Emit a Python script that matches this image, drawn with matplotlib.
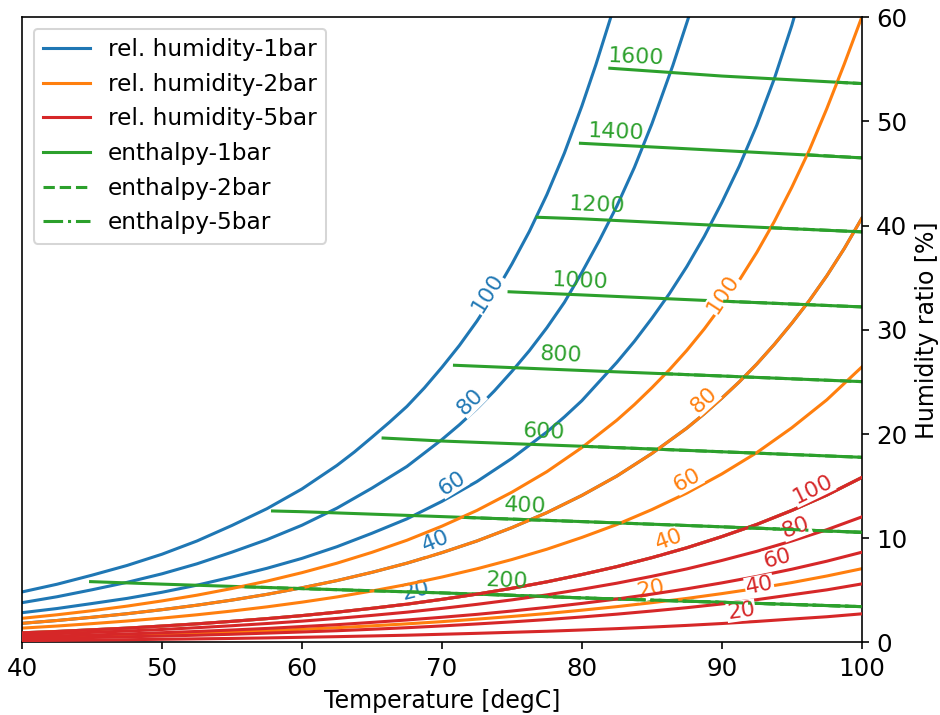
import numpy as np
import matplotlib
matplotlib.use('Agg')
from matplotlib import pyplot as plt
from matplotlib.lines import Line2D


# temperature grid [degC]
temp = [40, 42.5, 45, 47.5, 50, 52.5, 55, 57.5, 60, 62.5, 65, 67.5, 70,
        72.5, 75, 77.5, 80, 82.5, 85, 87.5, 90, 92.5, 95, 97.5, 100]

# relative humidity curves (humidity ratio in %)
t_b100 = [40, 42.5, 45, 47.5, 50, 52.5, 55, 57.5, 60, 62.5, 63.75, 65, 66.25, 67.5, 68.75,
          70, 71.25, 72.5, 73.75, 75, 76.25, 77.5, 78.75, 80, 81, 82.07]
x_b100 = [4.85, 5.59, 6.46, 7.39, 8.47, 9.74, 11.23, 12.84, 14.73, 16.99, 18.28, 19.69, 21.13, 22.65, 24.43,
          26.40, 28.50, 30.83, 33.42, 36.31, 39.44, 42.97, 46.95, 51.47, 55.43, 60.0]

t_b80 = [40, 42.5, 45, 47.5, 50, 52.5, 55, 57.5, 60, 62.5, 65, 67.5, 70, 71.25, 72.5, 73.75,
         75, 76.25, 77.5, 78.75, 80, 81.25, 82.5, 83.75, 85, 86.5, 87.63]
x_b80 = [3.82, 4.39, 5.06, 5.77, 6.59, 7.55, 8.67, 9.87, 11.25, 12.89, 14.81, 16.89, 19.47, 20.89, 22.44, 24.14,
         26.01, 28.00, 30.20, 32.63, 35.50, 38.57, 41.87, 45.57, 49.75, 55.36, 60.0]

t_b60 = [40, 42.5, 45, 47.5, 50, 52.5, 55, 57.5, 60, 62.5, 65, 67.5, 70, 72.5, 75, 77.5,
         78.75, 80, 81.25, 82.5, 83.75, 85, 86.25, 87.5, 88.75, 90, 91.25, 92.5, 93.75, 95, 95.17]
x_b60 = [2.86, 3.26, 3.74, 4.23, 4.82, 5.50, 6.28, 7.12, 8.07, 9.19, 10.48, 11.86, 13.54, 15.44, 17.66, 20.20,
         21.64, 23.20, 25.04, 26.88, 28.89, 31.10, 33.46, 36.07, 38.97, 42.21, 45.71, 49.64, 54.09, 59.2, 60.0]

# blue 40 and orange 80 lie on the same curve
t_b40 = [40, 42.5, 45, 47.5, 50, 52.5, 55, 57.5, 60, 62.5, 65, 67.5, 70, 72.5, 75, 77.5, 80,
         82.5, 85, 87.5, 88.75, 90, 91.25, 92.5, 93.75, 95, 96.25, 97.5, 98.75, 100]
x_b40 = [1.84, 2.11, 2.42, 2.76, 3.15, 3.58, 4.07, 4.62, 5.25, 5.94, 6.73, 7.61, 8.62, 9.74, 11.02, 12.46, 14.11,
         15.97, 18.13, 20.57, 21.95, 23.44, 25.01, 26.72, 28.60, 30.63, 32.80, 35.18, 37.80, 40.70]

# blue 20, orange 40 and red 100 lie on the same curve
x_b20 = [0.93, 1.06, 1.22, 1.38, 1.58, 1.79, 2.03, 2.29, 2.58, 2.91, 3.28, 3.68, 4.14,
         4.64, 5.20, 5.82, 6.52, 7.28, 8.14, 9.09, 10.16, 11.33, 12.67, 14.14, 15.83]

t_o100 = [40, 42.5, 45, 47.5, 50, 52.5, 55, 57.5, 60, 62.5, 65, 67.5, 70, 72.5, 75, 77.5, 80,
          82.5, 83.75, 85, 86.25, 87.5, 88.75, 90, 91.25, 92.5, 93.75, 95, 96.25, 97.5, 98.75, 100]
x_o100 = [2.32, 2.66, 3.05, 3.49, 3.99, 4.54, 5.18, 5.89, 6.70, 7.61, 8.65, 9.81, 11.16, 12.67, 14.42, 16.39, 18.70,
          21.33, 22.82, 24.44, 26.16, 28.03, 30.09, 32.35, 34.76, 37.43, 40.39, 43.67, 47.23, 51.22, 55.5, 60.0]
x_o60 = [1.38, 1.58, 1.81, 2.06, 2.34, 2.66, 3.02, 3.42, 3.87, 4.37, 4.94, 5.57, 6.28,
         7.07, 7.96, 8.95, 10.08, 11.32, 12.75, 14.34, 16.17, 18.22, 20.60, 23.28, 26.43]
x_o20 = [0.46, 0.53, 0.60, 0.68, 0.78, 0.88, 1.00, 1.12, 1.27, 1.42, 1.60, 1.79, 2.00,
         2.24, 2.50, 2.78, 3.10, 3.44, 3.82, 4.23, 4.69, 5.19, 5.75, 6.38, 7.08]

x_r80 = [0.74, 0.85, 0.97, 1.10, 1.25, 1.42, 1.61, 1.82, 2.05, 2.31, 2.60, 2.91, 3.27,
         3.66, 4.09, 4.57, 5.11, 5.69, 6.35, 7.06, 7.87, 8.75, 9.74, 10.82, 12.05]
x_r60 = [0.56, 0.63, 0.72, 0.82, 0.94, 1.06, 1.20, 1.35, 1.53, 1.71, 1.93, 2.16, 2.42,
         2.70, 3.02, 3.37, 3.75, 4.17, 4.64, 5.15, 5.72, 6.34, 7.03, 7.80, 8.66]
x_r40 = [0.37, 0.42, 0.48, 0.55, 0.62, 0.70, 0.79, 0.90, 1.01, 1.13, 1.27, 1.42, 1.59,
         1.78, 1.98, 2.20, 2.45, 2.72, 3.02, 3.34, 3.70, 4.11, 4.58, 5.05, 5.62]
x_r20 = [0.18, 0.21, 0.24, 0.27, 0.31, 0.35, 0.39, 0.44, 0.50, 0.56, 0.63, 0.70, 0.79,
         0.88, 0.98, 1.08, 1.20, 1.33, 1.48, 1.64, 1.82, 2.02, 2.25, 2.47, 2.75]

# enthalpy lines
h_levels = [200, 400, 600, 800, 1000, 1200, 1400, 1600]
h_T = [[44.9, 50, 60, 70, 80, 90, 100],
       [57.9, 60, 70, 80, 90, 100],
       [65.8, 70, 80, 90, 100],
       [70.9, 80, 90, 100],
       [74.8, 80, 90, 100],
       [76.8, 80, 90, 100],
       [79.9, 90, 100],
       [82.0, 90, 100]]
h_x = [[5.84, 5.6, 5.17, 4.76, 4.28, 3.86, 3.44],
       [12.62, 12.55, 12.08, 11.6, 11.1, 10.57],
       [19.62, 19.33, 18.83, 18.3, 17.77],
       [26.6, 26.1, 25.57, 25.03],
       [33.65, 33.35, 32.75, 32.2],
       [40.8, 40.65, 40.0, 39.4],
       [47.9, 47.2, 46.5],
       [55.1, 54.35, 53.63]]
# where the 2bar / 5bar lines begin (on their saturation curve)
h2_start_T = [55.9, 71.6, 80.0, 85.7, 90.1, 93.5, 96.1, 98.2]
h2_start_x = [5.35, 12.0, 18.83, 25.8, 32.75, 39.8, 46.8, 53.75]
h5_start_T = [73.9, 91.9]
h5_start_x = [4.6, 11.0]

# contour labels: text, T, x, rotation
lab_blue = [('100', 73.25, 33.5, 58), ('80', 72.05, 23.1, 45), ('60', 70.72, 15.3, 32),
            ('40', 69.53, 9.7, 22), ('20', 68.12, 5.0, 14)]
lab_orange = [('100', 90.06, 33.4, 57), ('80', 88.75, 23.3, 42), ('60', 87.55, 15.6, 28),
              ('40', 86.24, 9.9, 20), ('20', 84.93, 5.1, 12)]
lab_red = [('100', 96.5, 14.7, 26), ('80', 95.3, 11.0, 20), ('60', 93.99, 8.1, 15),
           ('40', 92.68, 5.45, 11), ('20', 91.37, 3.05, 8)]
lab_h = [(74.66, 5.93), (75.97, 13.13), (77.28, 20.23), (78.5, 27.56),
         (79.9, 34.63), (81.1, 41.99), (82.43, 48.99), (83.86, 56.19)]


fig = plt.figure(figsize=(6.4, 4.864), dpi=147)
ax = fig.add_axes([0.0234, 0.1014, 0.8926, 0.8746])

blue, orange, red, green = 'tab:blue', 'tab:orange', 'tab:red', 'tab:green'


def put_label(txt, t, x, rot, color, z):
    ax.text(t, x, txt, color=color, fontsize=10.8, rotation=rot, rotation_mode='anchor',
            ha='center', va='center', zorder=z,
            bbox=dict(boxstyle='square,pad=0.02', fc='white', ec='none'))


# 1 bar
for t, x in [(t_b100, x_b100), (t_b80, x_b80), (t_b60, x_b60), (t_b40, x_b40), (temp, x_b20)]:
    ax.plot(t, x, color=blue, lw=1.5, zorder=2)
for txt, t, x, rot in lab_blue:
    put_label(txt, t, x, rot, blue, 2.1)
for t, x in zip(h_T, h_x):
    ax.plot(t, x, color=green, lw=1.5, ls='-', zorder=2.2)

# 2 bar
for t, x in [(t_o100, x_o100), (t_b40, x_b40), (temp, x_o60), (temp, x_b20), (temp, x_o20)]:
    ax.plot(t, x, color=orange, lw=1.5, zorder=2.3)
for txt, t, x, rot in lab_orange:
    put_label(txt, t, x, rot, orange, 2.4)
for i in range(len(h_levels)):
    t = [h2_start_T[i]] + [v for v in h_T[i] if v > h2_start_T[i]]
    x = [h2_start_x[i]] + [h_x[i][j] for j, v in enumerate(h_T[i]) if v > h2_start_T[i]]
    ax.plot(t, x, color=green, lw=1.5, ls='--', zorder=2.5)

# 5 bar
for x in [x_b20, x_r80, x_r60, x_r40, x_r20]:
    ax.plot(temp, x, color=red, lw=1.5, zorder=2.6)
for txt, t, x, rot in lab_red:
    put_label(txt, t, x, rot, red, 2.7)
for i in range(len(h5_start_T)):
    t = [h5_start_T[i]] + [v for v in h_T[i] if v > h5_start_T[i]]
    x = [h5_start_x[i]] + [h_x[i][j] for j, v in enumerate(h_T[i]) if v > h5_start_T[i]]
    ax.plot(t, x, color=green, lw=1.5, ls='-.', zorder=2.8)

for lev, (t, x) in zip(h_levels, lab_h):
    ax.text(t, x, str(lev), color=green, fontsize=10.8, rotation=-2.5,
            ha='center', va='center', zorder=3)

ax.set_xlim(40, 100)
ax.set_ylim(0, 60)
ax.yaxis.tick_right()
ax.yaxis.set_label_position('right')
ax.tick_params(labelsize=12)
ax.set_xlabel('Temperature [degC]', fontsize=11.6)
ax.set_ylabel('Humidity ratio [%]', fontsize=11.6)

handles = [Line2D([], [], color=blue, lw=1.5),
           Line2D([], [], color=orange, lw=1.5),
           Line2D([], [], color=red, lw=1.5),
           Line2D([], [], color=green, lw=1.5, ls='-'),
           Line2D([], [], color=green, lw=1.5, ls='--'),
           Line2D([], [], color=green, lw=1.5, ls='-.')]
names = ['rel. humidity-1bar', 'rel. humidity-2bar', 'rel. humidity-5bar',
         'enthalpy-1bar', 'enthalpy-2bar', 'enthalpy-5bar']
ax.legend(handles, names, loc='upper left', fontsize=11.4)

fig.savefig('out.png', dpi=147)
